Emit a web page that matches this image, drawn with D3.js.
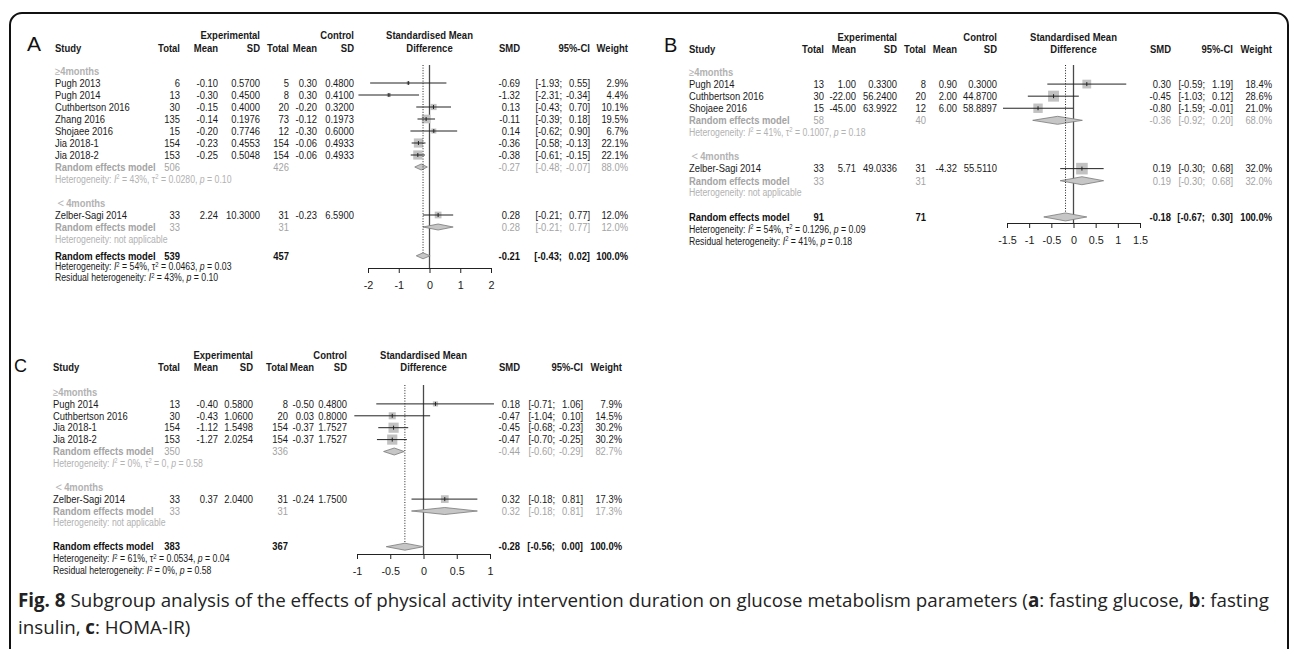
<!DOCTYPE html>
<html>
<head>
<meta charset="utf-8">
<script src="https://cdn.jsdelivr.net/npm/d3@7"></script>
<style>
  body { margin: 0; background: #fff; }
</style>
</head>
<body>
<script>
// ---- panel A : fasting glucose ----
var studyA = ["Pugh 2013","Pugh 2014","Cuthbertson 2016","Zhang 2016","Shojaee 2016","Jia 2018-1","Jia 2018-2","Zelber-Sagi 2014"];
var groupA = [0,0,0,0,0,0,0,1];
var eTotalA = [6,13,30,135,15,154,153,33];
var eMeanA = ["-0.10","-0.30","-0.15","-0.14","-0.20","-0.23","-0.25","2.24"];
var eSdA = ["0.5700","0.4500","0.4000","0.1976","0.7746","0.4553","0.5048","10.3000"];
var cTotalA = [5,8,20,73,12,154,154,31];
var cMeanA = ["0.30","0.30","-0.20","-0.12","-0.30","-0.06","-0.06","-0.23"];
var cSdA = ["0.4800","0.4100","0.3200","0.1973","0.6000","0.4933","0.4933","6.5900"];
var smdA = [-0.69,-1.32,0.13,-0.11,0.14,-0.36,-0.38,0.28];
var loA = [-1.93,-2.31,-0.43,-0.39,-0.62,-0.58,-0.61,-0.21];
var hiA = [0.55,-0.34,0.70,0.18,0.90,-0.13,-0.15,0.77];
var wA = [2.9,4.4,10.1,19.5,6.7,22.1,22.1,12.0];
var subETotalA = [506,33], subCTotalA = [426,31];
var subSmdA = [-0.27,0.28], subLoA = [-0.48,-0.21], subHiA = [-0.07,0.77], subWA = [88.0,12.0];
var subHetA = [["43","0.0280","0.10"], null];
var overallA = [539,457,-0.21,-0.43,0.02];
var overallHetA = ["54","0.0463","0.03"], residA = ["43","0.10"];
var ticksA = [-2,-1,0,1,2];

// ---- panel B : fasting insulin ----
var studyB = ["Pugh 2014","Cuthbertson 2016","Shojaee 2016","Zelber-Sagi 2014"];
var groupB = [0,0,0,1];
var eTotalB = [13,30,15,33];
var eMeanB = ["1.00","-22.00","-45.00","5.71"];
var eSdB = ["0.3300","56.2400","63.9922","49.0336"];
var cTotalB = [8,20,12,31];
var cMeanB = ["0.90","2.00","6.00","-4.32"];
var cSdB = ["0.3000","44.8700","58.8897","55.5110"];
var smdB = [0.30,-0.45,-0.80,0.19];
var loB = [-0.59,-1.03,-1.59,-0.30];
var hiB = [1.19,0.12,-0.01,0.68];
var wB = [18.4,28.6,21.0,32.0];
var subETotalB = [58,33], subCTotalB = [40,31];
var subSmdB = [-0.36,0.19], subLoB = [-0.92,-0.30], subHiB = [0.20,0.68], subWB = [68.0,32.0];
var subHetB = [["41","0.1007","0.18"], null];
var overallB = [91,71,-0.18,-0.67,0.30];
var overallHetB = ["54","0.1296","0.09"], residB = ["41","0.18"];
var ticksB = [-1.5,-1,-0.5,0,0.5,1,1.5];

// ---- panel C : HOMA-IR ----
var studyC = ["Pugh 2014","Cuthbertson 2016","Jia 2018-1","Jia 2018-2","Zelber-Sagi 2014"];
var groupC = [0,0,0,0,1];
var eTotalC = [13,30,154,153,33];
var eMeanC = ["-0.40","-0.43","-1.12","-1.27","0.37"];
var eSdC = ["0.5800","1.0600","1.5498","2.0254","2.0400"];
var cTotalC = [8,20,154,154,31];
var cMeanC = ["-0.50","0.03","-0.37","-0.37","-0.24"];
var cSdC = ["0.4800","0.8000","1.7527","1.7527","1.7500"];
var smdC = [0.18,-0.47,-0.45,-0.47,0.32];
var loC = [-0.71,-1.04,-0.68,-0.70,-0.18];
var hiC = [1.06,0.10,-0.23,-0.25,0.81];
var wC = [7.9,14.5,30.2,30.2,17.3];
var subETotalC = [350,33], subCTotalC = [336,31];
var subSmdC = [-0.44,0.32], subLoC = [-0.60,-0.18], subHiC = [-0.29,0.81], subWC = [82.7,17.3];
var subHetC = [["0","0","0.58"], null];
var overallC = [383,367,-0.28,-0.56,0.00];
var overallHetC = ["61","0.0534","0.04"], residC = ["0","0.58"];
var ticksC = [-1,-0.5,0,0.5,1];

var groupSigns = ["\u2265","\uff1c"];
var groupText = "4months";
var caption1 = [["Fig. 8",true],[" Subgroup analysis of the effects of physical activity intervention duration on glucose metabolism parameters (",false],["a",true],[": fasting glucose, ",false],["b",true],[": fasting",false]];
var caption2 = [["insulin, ",false],["c",true],[": HOMA-IR)",false]];

var W = 1292, H = 649;
var FS = 10.8, HET = 10, HDR = 10.9, SX = 0.87;
var FONT = "'Liberation Sans', Arial, sans-serif";
var GREY = "#a4a4a4", HGREY = "#b2b2b2";

var svg = d3.select("body").append("svg").attr("width", W).attr("height", H);

svg.append("rect")
  .attr("x", 10).attr("y", 13).attr("width", 1278).attr("height", 700)
  .attr("rx", 12).attr("fill", "none").attr("stroke", "#111").attr("stroke-width", 2);

// text squeezed a little horizontally like the scanned figure
function txt(g, x, y, s, o) {
  o = o || {};
  var sx = o.sx || SX;
  return g.append("text")
    .attr("transform", "translate(" + x + "," + y + ") scale(" + sx + ",1)")
    .attr("dy", "0.35em")
    .attr("text-anchor", o.anchor || "start")
    .style("font-family", FONT)
    .attr("font-size", o.size || FS)
    .attr("font-weight", o.bold ? "bold" : "normal")
    .attr("fill", o.fill || "#1a1a1a")
    .text(s);
}

function hetText(g, x, y, het, resid, fill) {
  var t = g.append("text")
    .attr("transform", "translate(" + x + "," + y + ") scale(" + SX + ",1)")
    .attr("dy", "0.35em").style("font-family", FONT)
    .attr("font-size", HET).attr("fill", fill);
  function sup() { t.append("tspan").attr("dy", -3.5).attr("font-size", 6.8).text("2"); }
  if (!het) { t.append("tspan").text("Heterogeneity: not applicable"); return; }
  t.append("tspan").text(resid ? "Residual heterogeneity: " : "Heterogeneity: ");
  t.append("tspan").attr("font-style", "italic").text("I");
  sup();
  t.append("tspan").attr("dy", 3.5).text(" = " + het[0] + "%, ");
  if (!resid) {
    t.append("tspan").text("\u03c4");
    sup();
    t.append("tspan").attr("dy", 3.5).text(" = " + het[1] + ", ");
  }
  t.append("tspan").attr("font-style", "italic").text("p");
  t.append("tspan").text(" = " + (resid ? het[1] : het[2]));
}

function drawPanel(cfg, d) {
  var g = svg.append("g");
  var x = d3.scaleLinear().domain(cfg.domain).range(cfg.range);
  var y = d3.scaleLinear().domain([0, 1]).range([cfg.y0, cfg.y0 + cfg.rowH]);
  var mid = (cfg.range[0] + cfg.range[1]) / 2;
  var c = cfg.cols;

  txt(g, cfg.labelX, cfg.labelY, cfg.label, {size: cfg.labelSize, fill: "#111", sx: 1});
  var hb = {bold: true, anchor: "end", size: HDR};
  txt(g, c[2], cfg.hdr1, "Experimental", hb);
  txt(g, c[5], cfg.hdr1, "Control", hb);
  txt(g, mid, cfg.hdr1, "Standardised Mean", {bold: true, anchor: "middle", size: HDR});
  txt(g, cfg.studyX, cfg.hdr2, "Study", {bold: true, size: HDR});
  ["Total","Mean","SD","Total","Mean","SD"].forEach(function(s, i) { txt(g, c[i], cfg.hdr2, s, hb); });
  txt(g, mid, cfg.hdr2, "Difference", {bold: true, anchor: "middle", size: HDR});
  txt(g, cfg.smdX, cfg.hdr2, "SMD", hb);
  txt(g, cfg.ciHiX, cfg.hdr2, "95%-CI", hb);
  txt(g, cfg.wX, cfg.hdr2, "Weight", hb);

  function resultCols(yy, smd, lo, hi, w, o) {
    txt(g, cfg.smdX, yy, smd.toFixed(2), Object.assign({anchor: "end"}, o));
    txt(g, cfg.ciLoX, yy, "[" + lo.toFixed(2) + ";", Object.assign({anchor: "end"}, o));
    txt(g, cfg.ciHiX, yy, hi.toFixed(2) + "]", Object.assign({anchor: "end"}, o));
    txt(g, cfg.wX, yy, w.toFixed(1) + "%", Object.assign({anchor: "end"}, o));
  }
  function diamond(yy, smd, lo, hi) {
    var h = cfg.dh;
    g.append("path")
      .attr("d", "M" + x(lo) + "," + yy + "L" + x(smd) + "," + (yy - h) + "L" + x(hi) + "," + yy + "L" + x(smd) + "," + (yy + h) + "Z")
      .attr("fill", "#c6c6c6").attr("stroke", "#7a7a7a").attr("stroke-width", 0.8);
  }

  var overallRow = d[11];
  var yAxis = cfg.axisY;
  g.append("line").attr("x1", x(0)).attr("x2", x(0)).attr("y1", cfg.lineTop).attr("y2", yAxis)
    .attr("stroke", "#4a4a4a").attr("stroke-width", 1.3);

  var idx = 0;
  [0, 1].forEach(function(grp) {
    var gl = txt(g, cfg.studyX, y(idx), "", {fill: HGREY, bold: true});
    gl.append("tspan").attr("font-weight", "normal").attr("font-size", grp ? 12.5 : FS).text(groupSigns[grp]);
    gl.append("tspan").text(groupText);
    idx++;
    d[0].forEach(function(name, i) {
      if (d[1][i] !== grp) return;
      var yy = y(idx);
      txt(g, cfg.studyX, yy, name);
      txt(g, c[0], yy, d[2][i], {anchor: "end"});
      txt(g, c[1], yy, d[3][i], {anchor: "end"});
      txt(g, c[2], yy, d[4][i], {anchor: "end"});
      txt(g, c[3], yy, d[5][i], {anchor: "end"});
      txt(g, c[4], yy, d[6][i], {anchor: "end"});
      txt(g, c[5], yy, d[7][i], {anchor: "end"});
      var s = cfg.sq * Math.sqrt(d[10][i]);
      g.append("rect").attr("x", x(d[8][i].smd) - s / 2).attr("y", yy - s / 2)
        .attr("width", s).attr("height", s).attr("fill", "#c2c2c2");
      g.append("line").attr("x1", x(d[8][i].lo)).attr("x2", x(d[8][i].hi)).attr("y1", yy).attr("y2", yy)
        .attr("stroke", "#222").attr("stroke-width", 1);
      g.append("line").attr("x1", x(d[8][i].smd)).attr("x2", x(d[8][i].smd)).attr("y1", yy - 2).attr("y2", yy + 2)
        .attr("stroke", "#222").attr("stroke-width", 1);
      resultCols(yy, d[8][i].smd, d[8][i].lo, d[8][i].hi, d[10][i], {});
      idx++;
    });
    var sub = d[9];
    var ys = y(idx);
    txt(g, cfg.studyX, ys, "Random effects model", {fill: GREY, bold: true});
    txt(g, c[0], ys, sub.eTotal[grp], {anchor: "end", fill: GREY});
    txt(g, c[3], ys, sub.cTotal[grp], {anchor: "end", fill: GREY});
    diamond(ys, sub.smd[grp], sub.lo[grp], sub.hi[grp]);
    resultCols(ys, sub.smd[grp], sub.lo[grp], sub.hi[grp], sub.w[grp], {fill: GREY});
    idx++;
    hetText(g, cfg.studyX, y(idx), sub.het[grp], false, HGREY);
    if (grp === 0) idx += 2;
  });

  var yo = y(idx + cfg.gap);
  g.append("line").attr("x1", x(overallRow[2])).attr("x2", x(overallRow[2])).attr("y1", cfg.lineTop).attr("y2", yo)
    .attr("stroke", "#222").attr("stroke-width", 1).attr("stroke-dasharray", "1,1.6");
  txt(g, cfg.studyX, yo, "Random effects model", {bold: true, fill: "#111"});
  txt(g, c[0], yo, overallRow[0], {anchor: "end", bold: true, fill: "#111"});
  txt(g, c[3], yo, overallRow[1], {anchor: "end", bold: true, fill: "#111"});
  diamond(yo, overallRow[2], overallRow[3], overallRow[4]);
  resultCols(yo, overallRow[2], overallRow[3], overallRow[4], 100, {bold: true, fill: "#111"});
  hetText(g, cfg.studyX, y(idx + cfg.gap + cfg.hetStep), d[12], false, "#1a1a1a");
  hetText(g, cfg.studyX, y(idx + cfg.gap + 2 * cfg.hetStep), d[13], true, "#1a1a1a");

  var ax = g.append("g").attr("transform", "translate(0," + yAxis + ")")
    .call(d3.axisBottom(x).tickValues(cfg.ticks).tickSize(5).tickSizeOuter(0).tickPadding(8)
      .tickFormat(function(v) { return String(v); }));
  ax.selectAll("path,line").attr("stroke", "#222");
  ax.selectAll("text").attr("font-size", FS).attr("fill", "#1a1a1a").style("font-family", FONT);
}

function pack(study, group, eT, eM, eS, cT, cM, cS, smd, lo, hi, w, sET, sCT, sS, sL, sH, sW, sHet, ov, oHet, res) {
  return [study, group, eT, eM, eS, cT, cM, cS,
    smd.map(function(v, i) { return {smd: v, lo: lo[i], hi: hi[i]}; }),
    {eTotal: sET, cTotal: sCT, smd: sS, lo: sL, hi: sH, w: sW, het: sHet},
    w, ov, oHet, res];
}

drawPanel({label: "A", labelX: 27, labelY: 44, labelSize: 21, studyX: 55,
  cols: [180,218,260,289,317,354], hdr1: 35, hdr2: 48, y0: 71, rowH: 12.0, gap: 1.4, hetStep: 0.92,
  domain: [-2,2], range: [368,491], ticks: ticksA, lineTop: 65, axisY: 268,
  smdX: 520, ciLoX: 562, ciHiX: 590, wX: 628, sq: 1.95, dh: 3},
  pack(studyA, groupA, eTotalA, eMeanA, eSdA, cTotalA, cMeanA, cSdA, smdA, loA, hiA, wA,
    subETotalA, subCTotalA, subSmdA, subLoA, subHiA, subWA, subHetA, overallA, overallHetA, residA));

drawPanel({label: "B", labelX: 664, labelY: 45, labelSize: 20, studyX: 689,
  cols: [824,856,897,926,957,997], hdr1: 37, hdr2: 49, y0: 72, rowH: 12.08, gap: 2, hetStep: 1,
  domain: [-1.5,1.5], range: [1007,1140], ticks: ticksB, lineTop: 65, axisY: 223,
  smdX: 1171, ciLoX: 1205, ciHiX: 1233, wX: 1272, sq: 2.05, dh: 4},
  pack(studyB, groupB, eTotalB, eMeanB, eSdB, cTotalB, cMeanB, cSdB, smdB, loB, hiB, wB,
    subETotalB, subCTotalB, subSmdB, subLoB, subHiB, subWB, subHetB, overallB, overallHetB, residB));

drawPanel({label: "C", labelX: 14, labelY: 366, labelSize: 18, studyX: 53,
  cols: [180,218,253,288,314,347], hdr1: 355, hdr2: 367, y0: 392, rowH: 11.9, gap: 2, hetStep: 1,
  domain: [-1,1], range: [357,490], ticks: ticksC, lineTop: 385, axisY: 554,
  smdX: 520, ciLoX: 555, ciHiX: 583, wX: 622, sq: 1.85, dh: 3.5},
  pack(studyC, groupC, eTotalC, eMeanC, eSdC, cTotalC, cMeanC, cSdC, smdC, loC, hiC, wC,
    subETotalC, subCTotalC, subSmdC, subLoC, subHiC, subWC, subHetC, overallC, overallHetC, residC));

// caption
function captionLine(parts, yy, size) {
  var t = svg.append("text").attr("x", 18).attr("y", yy)
    .style("font-family", "'Open Sans', 'Noto Sans', sans-serif").attr("font-size", size).attr("fill", "#222");
  parts.forEach(function(p) {
    t.append("tspan").attr("font-weight", p[1] ? "bold" : "normal").text(p[0]);
  });
  return t;
}
var cap = captionLine(caption1, 607, 16);
var len = cap.node().getComputedTextLength();
var capSize = 16 * 1252 / len;
cap.attr("font-size", capSize);
captionLine(caption2, 634, capSize);
</script>
</body>
</html>
